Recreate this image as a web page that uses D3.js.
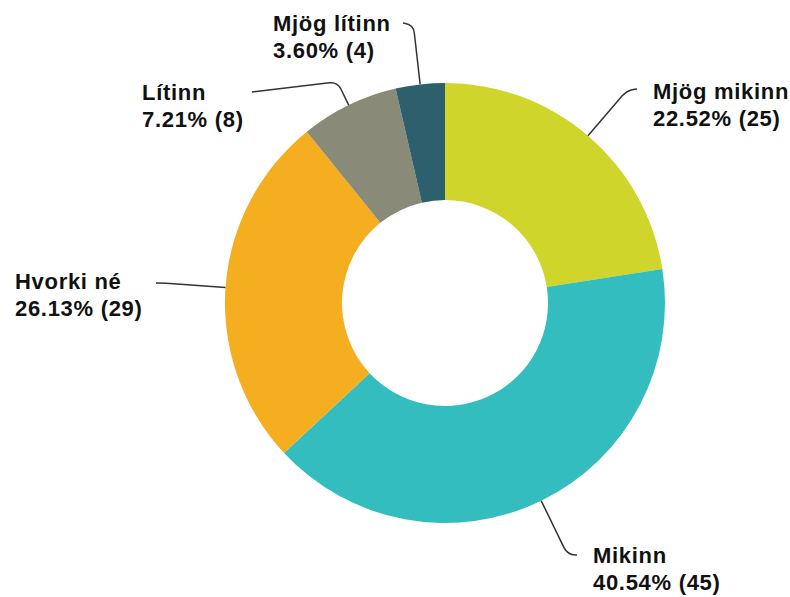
<!DOCTYPE html>
<html>
<head>
<meta charset="utf-8">
<script src="https://cdn.jsdelivr.net/npm/d3@7"></script>
<style>
html, body { margin: 0; padding: 0; background: #fff; }
svg { display: block; }
</style>
</head>
<body>
<svg id="chart" width="790" height="597"></svg>
<script>
// Data
const categories = ["Mjög mikinn", "Mikinn", "Hvorki né", "Lítinn", "Mjög lítinn"];
const counts = [25, 45, 29, 8, 4];
const percents = ["22.52%", "40.54%", "26.13%", "7.21%", "3.60%"];
const colors = ["#cfd52b", "#33bdbf", "#f5ae1f", "#8a8a78", "#2d5f6d"];

// Layout (label placement): text left x, first baseline y, connector anchor x/y, radial length
const labelLayout = [
  { tx: 653, ty: 99, ax: 637, ay: 89, len: 60 },
  { tx: 593, ty: 563, ax: 577, ay: 555, len: 60 },
  { tx: 15, ty: 289, ax: 156, ay: 283, len: 60 },
  { tx: 142, ty: 100, ax: 252, ay: 92, len: 26 },
  { tx: 273, ty: 31, ax: 403, ay: 23, len: 60 }
];

const cx = 445, cy = 303, outerR = 220, innerR = 103;
const svg = d3.select("#chart");
const g = svg.append("g").attr("transform", `translate(${cx},${cy})`);

const pie = d3.pie().sort(null).value(d => d)(counts);
const arc = d3.arc().innerRadius(innerR).outerRadius(outerR);

g.selectAll("path.slice").data(pie).join("path")
  .attr("class", "slice")
  .attr("d", arc)
  .attr("fill", (d, i) => colors[i]);

// connectors
pie.forEach((d, i) => {
  const L = labelLayout[i];
  const a = (d.startAngle + d.endAngle) / 2;
  const ux = Math.sin(a), uy = -Math.cos(a);
  const px = cx + ux * outerR, py = cy + uy * outerR;
  const qx = px + ux * L.len, qy = py + uy * L.len;
  const dir = Math.sign(L.ax - qx) || 1;
  const r = 8;
  const path = d3.path();
  path.moveTo(L.ax, L.ay);
  path.lineTo(qx + dir * r, qy + (L.ay - qy) * (r / Math.max(Math.abs(L.ax - qx), r)));
  path.quadraticCurveTo(qx, qy, qx - ux * r, qy - uy * r);
  path.lineTo(px, py);
  svg.append("path")
    .attr("d", path.toString())
    .attr("fill", "none")
    .attr("stroke", "#333")
    .attr("stroke-width", 1.5);
});

// labels
categories.forEach((c, i) => {
  const L = labelLayout[i];
  const t = svg.append("text")
    .attr("x", L.tx).attr("y", L.ty)
    .attr("font-family", "'Liberation Sans', Arial, sans-serif")
    .attr("font-weight", "bold")
    .attr("font-size", 22)
    .attr("letter-spacing", 0.7)
    .attr("fill", "#111");
  t.append("tspan").attr("x", L.tx).text(c);
  t.append("tspan").attr("x", L.tx).attr("dy", 27).text(`${percents[i]} (${counts[i]})`);
});
</script>
</body>
</html>
